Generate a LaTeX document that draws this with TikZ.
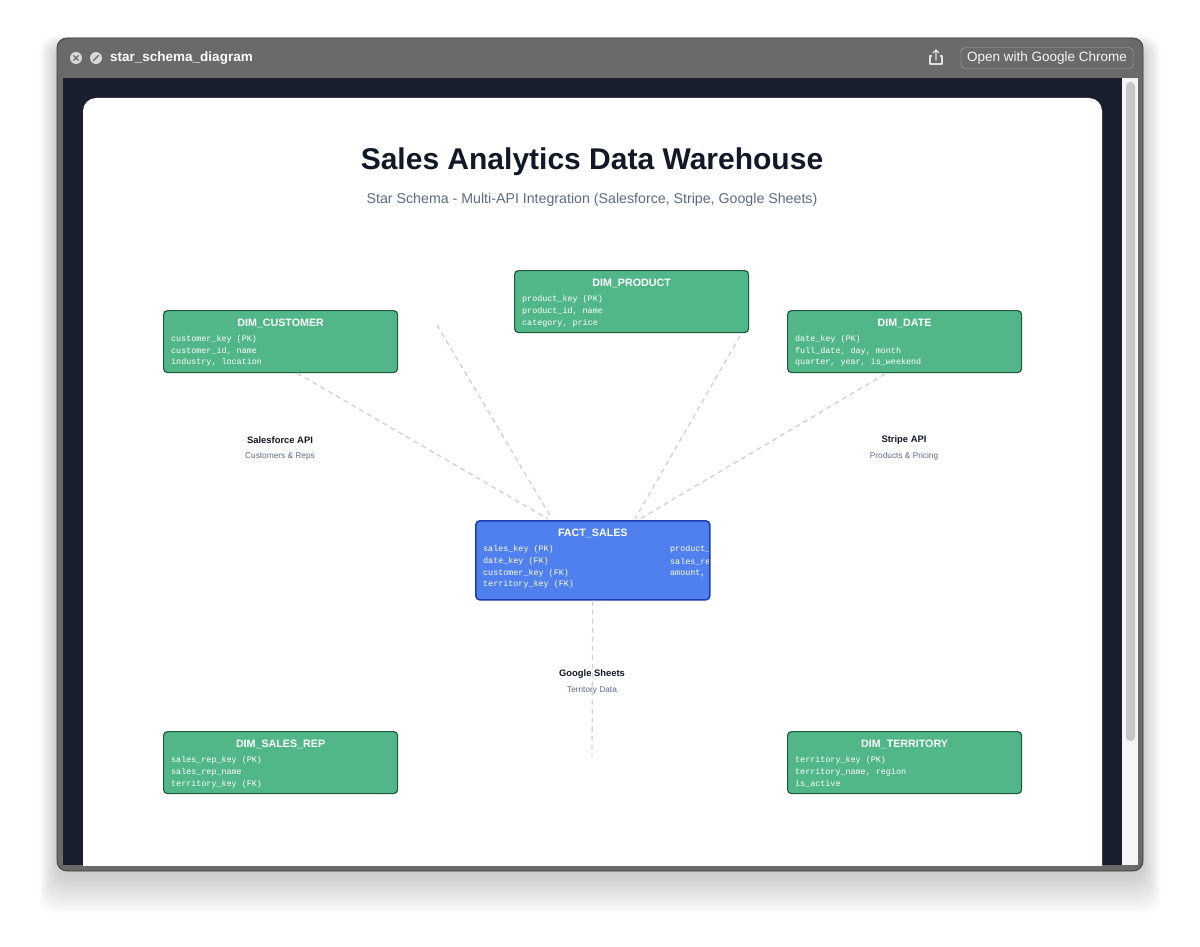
\documentclass[tikz,border=0pt]{standalone}
\usepackage{fontspec}
\setmainfont{Liberation Sans}
\newfontfamily\monof{Liberation Mono}
\usetikzlibrary{calc}
\definecolor{frame}{HTML}{6A6A6A}
\definecolor{frameedge}{HTML}{3C3C3C}
\definecolor{navy}{HTML}{1A1F2E}
\definecolor{dimfill}{HTML}{52B788}
\definecolor{dimedge}{HTML}{1E5C3E}
\definecolor{factfill}{HTML}{4F80EE}
\definecolor{factedge}{HTML}{1D3FAE}
\definecolor{titlec}{HTML}{111827}
\definecolor{subc}{HTML}{5B6B86}
\definecolor{dashc}{HTML}{CDD2D9}
\tikzset{
  dimbox/.style={draw=dimedge, fill=dimfill, line width=1.2pt, rounded corners=4pt, minimum width=234, minimum height=62, anchor=north west, inner sep=0},
  factbox/.style={draw=factedge, fill=factfill, line width=1.6pt, rounded corners=4pt, minimum width=234, minimum height=79, anchor=north west, inner sep=0},
  boxtitle/.style={text=white, font=\fontsize{10.7}{12}\selectfont\bfseries, inner sep=0},
  field/.style={text=white, font=\monof\fontsize{8.4}{10}\selectfont, anchor=west, inner sep=0},
  apiname/.style={text=titlec, font=\fontsize{9.4}{10}\selectfont\bfseries, inner sep=0},
  apisub/.style={text=subc, font=\fontsize{8.3}{9}\selectfont, inner sep=0},
  link/.style={draw=dashc, line width=1.3pt, dash pattern=on 5pt off 4pt}
}
\begin{document}
\begin{tikzpicture}[x=1pt,y=-1pt]
\useasboundingbox (0,0) rectangle (1200,947);
\fill[white] (0,0) rectangle (1200,947);
% shadow
\foreach \i in {1,...,16}{
  \fill[black, opacity=0.012, rounded corners=16pt] (57-\i*1.1,44-\i*0.5) rectangle (1143+\i*1.1,876+\i*2.4);
}
% window
\fill[frame, draw=frameedge, line width=0.8pt, rounded corners=10pt] (57,38) rectangle (1143,871);
\fill[navy] (63,78) rectangle (1122,865);
\fill[gray!8] (1122,78) rectangle (1138,865);
\fill[gray!45, rounded corners=4pt] (1126,82) rectangle (1135,741);
\begin{scope}
\clip (63,78) rectangle (1122,865);
\fill[white, rounded corners=13pt] (83,98) rectangle (1102,900);
\end{scope}
% title bar
\node[circle, fill=gray!30, minimum size=12, inner sep=0] (closeb) at (76,58) {};
\draw[frame, line width=1.3pt] ($(closeb)+(-2.6,-2.6)$) -- ($(closeb)+(2.6,2.6)$) ($(closeb)+(-2.6,2.6)$) -- ($(closeb)+(2.6,-2.6)$);
\node[circle, fill=gray!30, minimum size=12, inner sep=0] (stopb) at (96,58) {};
\draw[frame, line width=1.3pt] ($(stopb)+(-2.8,2.8)$) -- ($(stopb)+(2.8,-2.8)$);
\node[anchor=west, inner sep=0, text=white, font=\fontsize{13.5}{14}\selectfont\bfseries] (wtitle) at (110,58) {star\_schema\_diagram};
\draw[gray!25, line width=1.1pt, line join=round] (932,56) -- (930,56) -- (930,64) -- (942,64) -- (942,56) -- (940,56);
\draw[gray!25, line width=1.1pt, line cap=round] (936,60) -- (936,50) (933,53) -- (936,50) -- (939,53);
\node[draw=gray!62, rounded corners=4pt, minimum width=172, minimum height=21, inner sep=0] (chromeb) at (1047,58) {};
\node[inner sep=0, text=gray!8, font=\fontsize{13.5}{14}\selectfont] (chromet) at (chromeb) {Open with Google Chrome};
% headings
\node[text=titlec, font=\fontsize{30}{32}\selectfont\bfseries, inner sep=0] (title) at (592,161.5) {Sales Analytics Data Warehouse};
\node[text=subc, font=\fontsize{14.2}{16}\selectfont, inner sep=0] (subtitle) at (592,200) {Star Schema - Multi-API Integration (Salesforce, Stripe, Google Sheets)};
% connector end points
\coordinate (cA) at (297,373);
\coordinate (cB) at (437,325);
\coordinate (cC) at (740,336);
\coordinate (cD) at (885,374);
\coordinate (fA) at (548,519);
\coordinate (fB) at (552,519);
\coordinate (fC) at (635,519);
\coordinate (fD) at (640,519);
\coordinate (gEnd) at (592,756);
% boxes
\node[dimbox] (cust) at (163,310) {};
\node[dimbox] (prod) at (514,270) {};
\node[dimbox] (date) at (787,310) {};
\node[factbox] (fact) at (475,520) {};
\node[dimbox] (rep) at (163,731) {};
\node[dimbox] (terr) at (787,731) {};
% connectors
\draw[link] (cA) -- (fA);
\draw[link] (cB) -- (fB);
\draw[link] (cC) -- (fC);
\draw[link] (cD) -- (fD);
\draw[link] (fact.south) -- (gEnd);
% box text
\node[boxtitle] (custT) at ($(cust.north)+(0,13)$) {DIM\_CUSTOMER};
\node[field] (cust1) at (171,339) {customer\_key (PK)};
\node[field] (cust2) at (171,351) {customer\_id, name};
\node[field] (cust3) at (171,362.5) {industry, location};
\node[boxtitle] (prodT) at ($(prod.north)+(0,13)$) {DIM\_PRODUCT};
\node[field] (prod1) at (522,299.5) {product\_key (PK)};
\node[field] (prod2) at (522,311.5) {product\_id, name};
\node[field] (prod3) at (522,323) {category, price};
\node[boxtitle] (dateT) at ($(date.north)+(0,13)$) {DIM\_DATE};
\node[field] (date1) at (795,339) {date\_key (PK)};
\node[field] (date2) at (795,351) {full\_date, day, month};
\node[field] (date3) at (795,362.5) {quarter, year, is\_weekend};
\node[boxtitle] (factT) at ($(fact.north)+(0,13)$) {FACT\_SALES};
\node[field] (fact1) at (483,549.5) {sales\_key (PK)};
\node[field] (fact2) at (483,561.5) {date\_key (FK)};
\node[field] (fact3) at (483,573) {customer\_key (FK)};
\node[field] (fact4) at (483,584.5) {territory\_key (FK)};
\begin{scope}
\clip (475,520) rectangle (708.5,599);
\node[field] (fact5) at (670,549.5) {product\_};
\node[field] (fact6) at (670,561.5) {sales\_re};
\node[field] (fact7) at (670,573) {amount,};
\end{scope}
\node[boxtitle] (repT) at ($(rep.north)+(0,13)$) {DIM\_SALES\_REP};
\node[field] (rep1) at (171,760.5) {sales\_rep\_key (PK)};
\node[field] (rep2) at (171,772) {sales\_rep\_name};
\node[field] (rep3) at (171,784) {territory\_key (FK)};
\node[boxtitle] (terrT) at ($(terr.north)+(0,13)$) {DIM\_TERRITORY};
\node[field] (terr1) at (795,760.5) {territory\_key (PK)};
\node[field] (terr2) at (795,772) {territory\_name, region};
\node[field] (terr3) at (795,784) {is\_active};
% api labels
\node[apiname] (sfN) at (280,440) {Salesforce API};
\node[apisub] (sfS) at (280,456) {Customers \& Reps};
\node[apiname] (stN) at (904,440) {Stripe API};
\node[apisub] (stS) at (904,456) {Products \& Pricing};
\node[apiname] (gsN) at (592,674) {Google Sheets};
\node[apisub] (gsS) at (592,690) {Territory Data};
\end{tikzpicture}
\end{document}
